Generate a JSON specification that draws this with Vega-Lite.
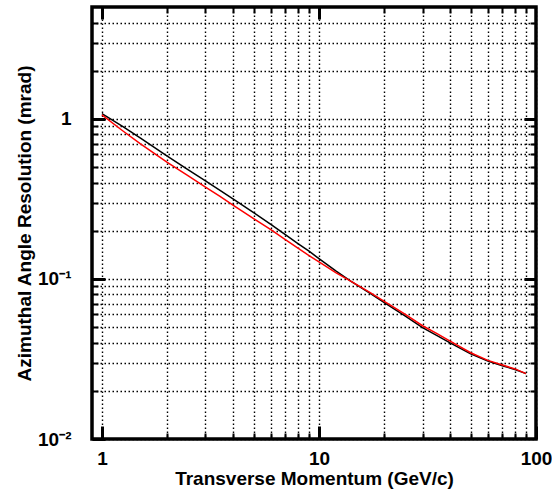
{
  "$schema": "https://vega.github.io/schema/vega-lite/v6.json",
  "width": 444,
  "height": 432,
  "autosize": {"type": "none"},
  "padding": {"left": 92, "top": 7, "right": 16, "bottom": 56},
  "background": "white",
  "config": {
    "view": {"stroke": "black", "strokeWidth": 3.5},
    "font": "Liberation Sans",
    "axis": {
      "domain": false,
      "tickColor": "black",
      "labelColor": "black",
      "labelFont": "Liberation Sans",
      "labelFontWeight": "bold",
      "labelFontSize": 19,
      "labelOverlap": false,
      "labelFlush": false,
      "titleFont": "Liberation Sans",
      "titleFontWeight": "bold",
      "titleFontSize": 19,
      "titleColor": "black",
      "gridColor": "black",
      "gridDash": [1.5, 2.5],
      "gridWidth": 1.4,
      "gridOpacity": 1
    }
  },
  "datasets": {
    "black": [
      {"p": 1, "res": 1.08}, {"p": 1.25, "res": 0.895}, {"p": 1.5, "res": 0.76},
      {"p": 2, "res": 0.585}, {"p": 2.5, "res": 0.48}, {"p": 3, "res": 0.41},
      {"p": 3.5, "res": 0.358}, {"p": 4, "res": 0.318}, {"p": 5, "res": 0.26},
      {"p": 6, "res": 0.219}, {"p": 7, "res": 0.189}, {"p": 8, "res": 0.166},
      {"p": 9, "res": 0.149}, {"p": 10, "res": 0.134}, {"p": 12, "res": 0.112},
      {"p": 14, "res": 0.097}, {"p": 17, "res": 0.082}, {"p": 20, "res": 0.071},
      {"p": 25, "res": 0.0585}, {"p": 30, "res": 0.0496}, {"p": 35, "res": 0.0443},
      {"p": 40, "res": 0.0400}, {"p": 50, "res": 0.0340}, {"p": 60, "res": 0.0307},
      {"p": 70, "res": 0.0287}, {"p": 80, "res": 0.0272}, {"p": 90, "res": 0.0256}
    ],
    "red": [
      {"p": 1, "res": 1.06}, {"p": 1.25, "res": 0.84}, {"p": 1.5, "res": 0.70},
      {"p": 2, "res": 0.535}, {"p": 2.5, "res": 0.44}, {"p": 3, "res": 0.375},
      {"p": 3.5, "res": 0.328}, {"p": 4, "res": 0.29}, {"p": 5, "res": 0.238},
      {"p": 6, "res": 0.203}, {"p": 7, "res": 0.176}, {"p": 8, "res": 0.156},
      {"p": 9, "res": 0.14}, {"p": 10, "res": 0.128}, {"p": 12, "res": 0.109},
      {"p": 14, "res": 0.097}, {"p": 17, "res": 0.083}, {"p": 20, "res": 0.0725},
      {"p": 25, "res": 0.060}, {"p": 30, "res": 0.051}, {"p": 35, "res": 0.0455},
      {"p": 40, "res": 0.041}, {"p": 50, "res": 0.0346}, {"p": 60, "res": 0.031},
      {"p": 70, "res": 0.029}, {"p": 80, "res": 0.0274}, {"p": 90, "res": 0.0256}
    ]
  },
  "layer": [
    {
      "data": {"name": "black"},
      "mark": {"type": "line", "color": "black", "strokeWidth": 1.5, "clip": true},
      "encoding": {
        "x": {
          "field": "p", "type": "quantitative",
          "scale": {"type": "log", "domain": [0.9, 100], "nice": false},
          "axis": {
            "orient": "bottom",
            "title": "Transverse Momentum (GeV/c)",
            "titlePadding": 1,
            "values": [1, 2, 3, 4, 5, 6, 7, 8, 9, 10, 20, 30, 40, 50, 60, 70, 80, 90, 100],
            "grid": true,
            "ticks": false,
            "tickSize": 0,
            "labelExpr": "datum.value == 1 ? '1' : datum.value == 10 ? '10' : datum.value == 100 ? '100' : ''",
            "labelPadding": 10
          }
        },
        "y": {
          "field": "res", "type": "quantitative",
          "scale": {"type": "log", "domain": [0.01, 5], "nice": false},
          "axis": {
            "orient": "left",
            "title": "Azimuthal Angle Resolution (mrad)",
            "titlePadding": 3,
            "values": [0.01, 0.02, 0.03, 0.04, 0.05, 0.06, 0.07, 0.08, 0.09, 0.1, 0.2, 0.3, 0.4, 0.5, 0.6, 0.7, 0.8, 0.9, 1, 2, 3, 4],
            "grid": true,
            "ticks": false,
            "tickSize": 0,
            "labelExpr": "datum.value == 1 ? '1' : datum.value == 0.1 ? '10⁻¹' : datum.value == 0.01 ? '10⁻²' : ''",
            "labelPadding": 21
          }
        }
      }
    },
    {
      "data": {"name": "red"},
      "mark": {"type": "line", "color": "red", "strokeWidth": 1.5, "clip": true},
      "encoding": {
        "x": {
          "field": "p", "type": "quantitative",
          "scale": {"type": "log", "domain": [0.9, 100], "nice": false},
          "axis": {
            "orient": "top", "title": null, "labels": false, "grid": false,
            "values": [1, 10], "offset": -12, "tickSize": 12, "tickWidth": 3
          }
        },
        "y": {
          "field": "res", "type": "quantitative",
          "scale": {"type": "log", "domain": [0.01, 5], "nice": false},
          "axis": {
            "orient": "right", "title": null, "labels": false, "grid": false,
            "values": [0.1, 1], "offset": -12, "tickSize": 12, "tickWidth": 3
          }
        }
      }
    },
    {
      "data": {"name": "black"},
      "mark": {"type": "line", "strokeOpacity": 0, "clip": true},
      "encoding": {
        "x": {
          "field": "p", "type": "quantitative",
          "scale": {"type": "log", "domain": [0.9, 100], "nice": false},
          "axis": {
            "orient": "bottom", "title": null, "labels": false, "grid": false,
            "values": [1, 10, 100], "offset": -13, "tickSize": 13, "tickWidth": 3
          }
        },
        "y": {
          "field": "res", "type": "quantitative",
          "scale": {"type": "log", "domain": [0.01, 5], "nice": false},
          "axis": {
            "orient": "left", "title": null, "labels": false, "grid": false,
            "values": [0.01, 0.1, 1], "offset": -13, "tickSize": 13, "tickWidth": 3
          }
        }
      }
    },
    {
      "data": {"name": "black"},
      "mark": {"type": "line", "strokeOpacity": 0, "clip": true},
      "encoding": {
        "x": {
          "field": "p", "type": "quantitative",
          "scale": {"type": "log", "domain": [0.9, 100], "nice": false},
          "axis": {
            "orient": "bottom", "title": null, "labels": false, "grid": false,
            "values": [2, 3, 4, 5, 6, 7, 8, 9, 20, 30, 40, 50, 60, 70, 80, 90],
            "offset": -6, "tickSize": 6, "tickWidth": 2
          }
        },
        "y": {
          "field": "res", "type": "quantitative",
          "scale": {"type": "log", "domain": [0.01, 5], "nice": false},
          "axis": {
            "orient": "left", "title": null, "labels": false, "grid": false,
            "values": [0.02, 0.03, 0.04, 0.05, 0.06, 0.07, 0.08, 0.09, 0.2, 0.3, 0.4, 0.5, 0.6, 0.7, 0.8, 0.9, 2, 3, 4],
            "offset": -6, "tickSize": 6, "tickWidth": 2
          }
        }
      }
    },
    {
      "data": {"name": "black"},
      "mark": {"type": "line", "strokeOpacity": 0, "clip": true},
      "encoding": {
        "x": {
          "field": "p", "type": "quantitative",
          "scale": {"type": "log", "domain": [0.9, 100], "nice": false},
          "axis": {
            "orient": "top", "title": null, "labels": false, "grid": false,
            "values": [2, 3, 4, 5, 6, 7, 8, 9, 20, 30, 40, 50, 60, 70, 80, 90],
            "offset": -6, "tickSize": 6, "tickWidth": 2
          }
        },
        "y": {
          "field": "res", "type": "quantitative",
          "scale": {"type": "log", "domain": [0.01, 5], "nice": false},
          "axis": {
            "orient": "right", "title": null, "labels": false, "grid": false,
            "values": [0.02, 0.03, 0.04, 0.05, 0.06, 0.07, 0.08, 0.09, 0.2, 0.3, 0.4, 0.5, 0.6, 0.7, 0.8, 0.9, 2, 3, 4],
            "offset": -6, "tickSize": 6, "tickWidth": 2
          }
        }
      }
    }
  ],
  "resolve": {"axis": {"x": "independent", "y": "independent"}}
}
